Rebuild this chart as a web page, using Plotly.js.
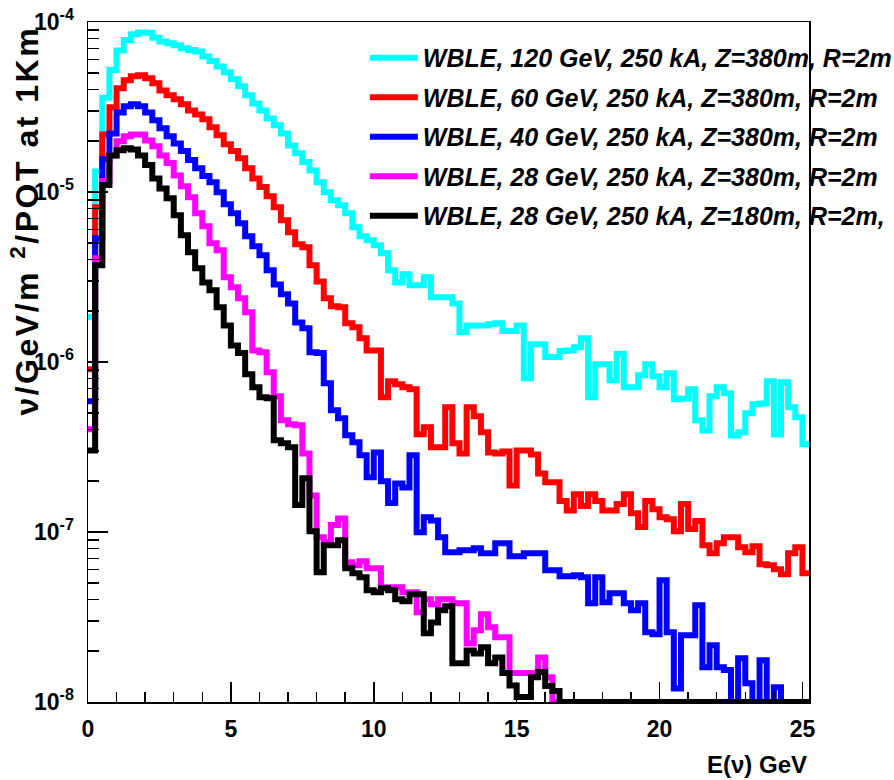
<!DOCTYPE html>
<html>
<head>
<meta charset="utf-8">
<script src="https://cdn.plot.ly/plotly-3.0.1.min.js"></script>
<style>
html,body{margin:0;padding:0;background:#ffffff;}
#chart{width:894px;height:780px;}
</style>
</head>
<body>
<div id="chart"></div>
<script>
// Histogram binning: 101 bins of 0.25 GeV starting at 0
const binWidth = 0.25;
const nBins = 101;

const seriesNames = [
  "WBLE, 120 GeV, 250 kA, Z=380m, R=2m",
  "WBLE, 60 GeV, 250 kA, Z=380m, R=2m",
  "WBLE, 40 GeV, 250 kA, Z=380m, R=2m",
  "WBLE, 28 GeV, 250 kA, Z=380m, R=2m",
  "WBLE, 28 GeV, 250 kA, Z=180m, R=2m,"
];
const seriesColors = ["#00FFFF", "#FF0000", "#0000FF", "#FF00FF", "#000000"];

// nu / GeV / m^2 / POT at 1 km, per 0.25 GeV bin
const wble120 = [
  1.84e-6, 1.32e-5, 3.59e-5, 5.22e-5, 6.79e-5, 7.84e-5, 8.46e-5, 8.66e-5, 8.64e-5, 8.09e-5,
  7.67e-5, 7.49e-5, 7.29e-5, 7.00e-5, 6.84e-5, 6.70e-5, 6.26e-5, 5.90e-5, 5.47e-5, 5.06e-5,
  4.60e-5, 4.19e-5, 3.71e-5, 3.32e-5, 3.02e-5, 2.71e-5, 2.47e-5, 2.21e-5, 1.88e-5, 1.69e-5,
  1.50e-5, 1.34e-5, 1.14e-5, 9.96e-6, 8.94e-6, 8.35e-6, 7.49e-6, 6.20e-6, 5.49e-6, 5.20e-6,
  4.86e-6, 4.36e-6, 3.46e-6, 2.94e-6, 3.28e-6, 2.83e-6, 2.83e-6, 3.15e-6, 2.40e-6, 2.40e-6,
  2.40e-6, 2.21e-6, 1.50e-6, 1.64e-6, 1.64e-6, 1.64e-6, 1.67e-6, 1.69e-6, 1.52e-6, 1.52e-6,
  1.64e-6, 8.02e-7, 1.27e-6, 1.27e-6, 1.07e-6, 1.07e-6, 1.16e-6, 1.17e-6, 1.22e-6, 1.38e-6,
  6.20e-7, 9.69e-7, 9.69e-7, 7.81e-7, 1.12e-6, 7.10e-7, 7.10e-7, 8.35e-7, 9.69e-7, 8.24e-7,
  7.10e-7, 8.58e-7, 6.03e-7, 6.10e-7, 6.91e-7, 4.54e-7, 3.96e-7, 6.28e-7, 7.10e-7, 6.55e-7,
  3.70e-7, 3.86e-7, 4.99e-7, 5.64e-7, 5.70e-7, 7.70e-7, 3.75e-7, 7.60e-7, 5.41e-7, 4.73e-7,
  3.28e-7
];
const wble60 = [
  9.06e-7, 8.13e-6, 2.18e-5, 3.15e-5, 4.07e-5, 4.54e-5, 4.79e-5, 4.86e-5, 4.66e-5, 4.36e-5,
  3.96e-5, 3.71e-5, 3.51e-5, 3.28e-5, 3.02e-5, 2.86e-5, 2.68e-5, 2.40e-5, 2.16e-5, 1.91e-5,
  1.74e-5, 1.58e-5, 1.38e-5, 1.20e-5, 1.07e-5, 9.43e-6, 8.13e-6, 6.82e-6, 5.79e-6, 4.92e-6,
  4.73e-6, 3.71e-6, 2.98e-6, 2.37e-6, 2.13e-6, 2.10e-6, 1.69e-6, 1.60e-6, 1.38e-6, 1.17e-6,
  1.17e-6, 6.20e-7, 7.70e-7, 7.39e-7, 7.10e-7, 6.91e-7, 3.76e-7, 4.13e-7, 3.15e-7, 3.15e-7,
  5.41e-7, 3.33e-7, 2.90e-7, 5.41e-7, 4.79e-7, 3.86e-7, 2.94e-7, 2.90e-7, 2.98e-7, 1.88e-7,
  3.02e-7, 3.02e-7, 2.86e-7, 2.21e-7, 1.96e-7, 1.96e-7, 1.52e-7, 1.34e-7, 1.67e-7, 1.42e-7,
  1.67e-7, 1.52e-7, 1.34e-7, 1.34e-7, 1.46e-7, 1.67e-7, 1.29e-7, 1.07e-7, 1.52e-7, 1.36e-7,
  1.22e-7, 1.19e-7, 1.01e-7, 1.46e-7, 1.04e-7, 1.16e-7, 8.35e-8, 7.49e-8, 8.58e-8, 9.31e-8,
  9.31e-8, 8.13e-8, 7.60e-8, 8.24e-8, 6.46e-8, 6.37e-8, 6.03e-8, 5.64e-8, 7.49e-8, 8.13e-8,
  5.72e-8
];
const wble40 = [
  5.87e-7, 5.34e-6, 1.56e-5, 2.21e-5, 2.94e-5, 3.19e-5, 3.28e-5, 3.19e-5, 2.94e-5, 2.64e-5,
  2.37e-5, 2.13e-5, 1.93e-5, 1.74e-5, 1.54e-5, 1.38e-5, 1.24e-5, 1.14e-5, 9.96e-6, 8.47e-6,
  7.49e-6, 6.55e-6, 5.49e-6, 4.79e-6, 4.24e-6, 3.46e-6, 2.86e-6, 2.50e-6, 2.21e-6, 1.71e-6,
  1.58e-6, 1.14e-6, 1.13e-6, 7.49e-7, 5.20e-7, 4.66e-7, 3.71e-7, 3.37e-7, 2.83e-7, 2.10e-7,
  2.94e-7, 1.99e-7, 1.48e-7, 1.93e-7, 1.83e-7, 2.83e-7, 9.96e-8, 1.22e-7, 1.17e-7, 9.31e-8,
  7.60e-8, 7.60e-8, 7.80e-8, 7.80e-8, 8.02e-8, 7.49e-8, 7.49e-8, 8.58e-8, 8.58e-8, 7.20e-8,
  7.20e-8, 7.49e-8, 7.49e-8, 7.49e-8, 5.95e-8, 5.95e-8, 5.49e-8, 5.49e-8, 5.56e-8, 5.41e-8,
  3.81e-8, 5.41e-8, 3.86e-8, 4.36e-8, 4.36e-8, 3.81e-8, 3.46e-8, 3.81e-8, 2.57e-8, 2.50e-8,
  5.20e-8, 2.57e-8, 1.20e-8, 2.47e-8, 2.47e-8, 3.71e-8, 1.60e-8, 2.16e-8, 1.60e-8, 1.54e-8,
  0, 1.81e-8, 1.29e-8, 0, 1.76e-8, 0, 1.22e-8, 0, 0, 0,
  0
];
const wble28z380 = [
  4.02e-7, 4.07e-6, 1.16e-5, 1.64e-5, 1.99e-5, 2.13e-5, 2.18e-5, 2.18e-5, 2.01e-5, 1.86e-5,
  1.64e-5, 1.48e-5, 1.25e-5, 1.08e-5, 9.31e-6, 7.49e-6, 6.28e-6, 4.99e-6, 4.54e-6, 3.15e-6,
  2.75e-6, 2.37e-6, 1.96e-6, 1.17e-6, 1.14e-6, 8.70e-7, 6.28e-7, 4.54e-7, 4.30e-7, 4.24e-7,
  2.90e-7, 1.64e-7, 9.31e-8, 8.70e-8, 1.10e-7, 1.20e-7, 6.63e-8, 6.37e-8, 6.72e-8, 6.12e-8,
  6.12e-8, 4.73e-8, 4.73e-8, 4.73e-8, 4.42e-8, 4.42e-8, 3.37e-8, 4.02e-8, 3.76e-8, 4.02e-8,
  4.02e-8, 3.81e-8, 3.81e-8, 2.21e-8, 2.64e-8, 3.28e-8, 2.75e-8, 2.40e-8, 2.40e-8, 1.48e-8,
  1.48e-8, 1.48e-8, 1.48e-8, 1.83e-8, 1.40e-8, 0, 0, 0, 0, 0,
  0, 0, 0, 0, 0, 0, 0, 0, 0, 0,
  0, 0, 0, 0, 0, 0, 0, 0, 0, 0,
  0, 0, 0, 0, 0, 0, 0, 0, 0, 0,
  0
];
const wble28z180 = [
  3.02e-7, 3.71e-6, 1.10e-5, 1.64e-5, 1.76e-5, 1.81e-5, 1.78e-5, 1.64e-5, 1.44e-5, 1.20e-5,
  1.05e-5, 9.18e-6, 7.29e-6, 5.56e-6, 4.42e-6, 3.56e-6, 2.94e-6, 2.64e-6, 2.10e-6, 1.64e-6,
  1.25e-6, 1.13e-6, 8.47e-7, 7.10e-7, 6.20e-7, 6.12e-7, 3.46e-7, 3.33e-7, 3.15e-7, 1.44e-7,
  2.07e-7, 1.01e-7, 5.79e-8, 8.35e-8, 8.35e-8, 8.94e-8, 6.12e-8, 5.72e-8, 5.41e-8, 4.54e-8,
  4.42e-8, 4.66e-8, 4.54e-8, 4.02e-8, 3.91e-8, 4.30e-8, 4.30e-8, 2.54e-8, 2.94e-8, 3.46e-8,
  3.66e-8, 1.69e-8, 1.69e-8, 2.01e-8, 1.93e-8, 2.10e-8, 1.69e-8, 1.83e-8, 1.48e-8, 1.25e-8,
  1.07e-8, 1.07e-8, 1.40e-8, 1.50e-8, 1.24e-8, 1.16e-8, 0, 0, 0, 0,
  0, 0, 0, 0, 0, 0, 0, 0, 0, 0,
  0, 0, 0, 0, 0, 0, 0, 0, 0, 0,
  0, 0, 0, 0, 0, 0, 0, 0, 0, 0,
  0
];

const xTickVals = [0, 5, 10, 15, 20, 25];
const yTickVals = [1e-8, 1e-7, 1e-6, 1e-5, 1e-4];
const yTickText = ["10<sup>-8</sup>", "10<sup>-7</sup>", "10<sup>-6</sup>", "10<sup>-5</sup>", "10<sup>-4</sup>"];
const xTitle = "E(\u03bd) GeV";
const yTitle = "\u03bd/GeV/m <sup>2</sup>/POT at 1Km";

const yMinExp = -8, yMaxExp = -4;
const yFloor = Math.pow(10, yMinExp); // empty bins drawn on the frame bottom (ROOT style)

const allSeries = [wble120, wble60, wble40, wble28z380, wble28z180];
const edges = [];
for (let i = 0; i <= nBins; i++) edges.push(i * binWidth);

const FONT = "Liberation Sans, Arial, Helvetica, sans-serif";

const traces = allSeries.map((vals, i) => {
  const y = vals.map(v => (v > 0 ? v : yFloor));
  y.push(y[y.length - 1]);
  return {
    type: "scatter",
    mode: "lines",
    x: edges,
    y: y,
    name: seriesNames[i],
    legendgroup: "g" + i,
    line: {shape: "hv", color: seriesColors[i], width: 6},
    hoverinfo: "skip"
  };
});

const axisCommon = {
  showline: true, linecolor: "#000", linewidth: 1.5, mirror: true,
  showgrid: false, zeroline: false,
  ticks: "inside", ticklen: 20, tickwidth: 1.5, tickcolor: "#000"
};

const layout = {
  width: 894, height: 780,
  margin: {l: 88, r: 85, t: 22, b: 78, autoexpand: false},
  paper_bgcolor: "#fff", plot_bgcolor: "#fff",
  showlegend: true,
  legend: {
    x: 0.384, xanchor: "left", y: 0.981, yanchor: "top",
    bgcolor: "rgba(0,0,0,0)", borderwidth: 0,
    itemwidth: 48, tracegroupgap: 4,
    font: {family: FONT, size: 25, color: "#000", weight: "bold", style: "italic"}
  },
  xaxis: Object.assign({}, axisCommon, {
    range: [0, 25.23], tickmode: "array", tickvals: xTickVals,
    ticklabelstandoff: 6,
    tickfont: {family: FONT, size: 23, color: "#000", weight: "bold"},
    minor: {dtick: 1, tick0: 0, ticks: "inside", ticklen: 10, tickwidth: 1.5, tickcolor: "#000", showgrid: false}
  }),
  yaxis: Object.assign({}, axisCommon, {
    type: "log", range: [yMinExp, yMaxExp],
    tickmode: "array", tickvals: yTickVals, ticktext: yTickText,
    ticklabelstandoff: 8,
    tickfont: {family: FONT, size: 23, color: "#000", weight: "bold"},
    minor: {dtick: "D1", ticks: "inside", ticklen: 11, tickwidth: 1.5, tickcolor: "#000", showgrid: false}
  }),
  annotations: [
    {text: xTitle, xref: "paper", yref: "paper", x: 1, y: -0.0926, xanchor: "right", yanchor: "middle",
     showarrow: false, font: {family: FONT, size: 24, color: "#000", weight: "bold"}},
    {text: '<span style="letter-spacing:2.5px">' + yTitle + '</span>', xref: "paper", yref: "paper",
     x: -0.088, y: 0.997, xanchor: "center", yanchor: "top",
     textangle: -90, showarrow: false, font: {family: FONT, size: 32, color: "#000", weight: "bold"}}
  ]
};

Plotly.newPlot("chart", traces, layout, {staticPlot: true, displayModeBar: false});
</script>
</body>
</html>
